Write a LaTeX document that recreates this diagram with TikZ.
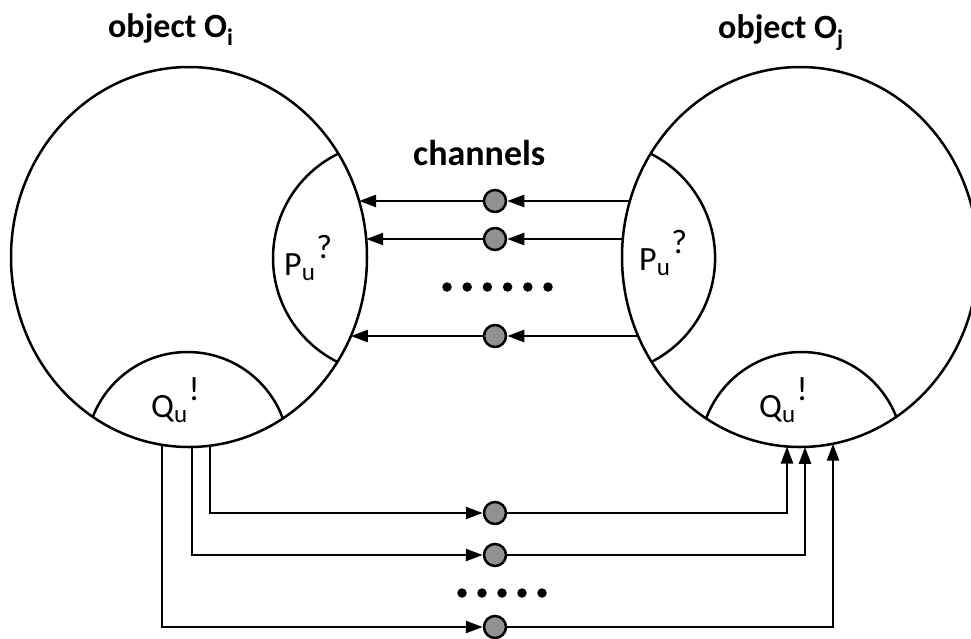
\documentclass[tikz,border=0pt]{standalone}
\usepackage{fontspec}
\setmainfont{Carlito}
\usetikzlibrary{shapes.geometric,arrows.meta}
\definecolor{chgray}{RGB}{145,145,145}
\newcommand\portlbl[2]{#1\raisebox{-5pt}{\fontsize{25}{25}\selectfont u}\hspace{1.5pt}\raisebox{17pt}{#2}}
\begin{document}
\begin{tikzpicture}[x=1pt,y=-1pt,
  obj/.style={draw,ellipse,line width=2.5pt,minimum width=356pt,minimum height=380pt,inner sep=0pt,outer sep=0pt},
  chan/.style={draw,circle,line width=2.5pt,fill=chgray,minimum size=22pt,inner sep=0pt},
  arr/.style={line width=2.5pt,-{Triangle[length=17pt,width=12pt]}},
  wire/.style={line width=2.5pt},
  dotm/.style={circle,fill=black,minimum size=9.5pt,inner sep=0pt},
  title/.style={font=\fontsize{34}{40}\selectfont\bfseries,anchor=base west,inner sep=0pt},
  lab/.style={font=\fontsize{34}{40}\selectfont,anchor=base west,inner sep=0pt}]
\clip (0,0) rectangle (971,638);
% objects
\node[obj] (Oi) at (189,257) {};
\node[obj] (Oj) at (800,257) {};
\begin{scope}
  \clip (189,257) ellipse [x radius=178pt, y radius=190pt];
  \draw[wire] (389,258) circle [radius=116pt];
  \draw[wire] (187.5,453.6) circle [radius=101.6pt];
\end{scope}
\begin{scope}
  \clip (800,257) ellipse [x radius=178pt, y radius=190pt];
  \draw[wire] (598.5,258) circle [radius=116.6pt];
  \draw[wire] (801.5,453.6) circle [radius=101.6pt];
\end{scope}
% titles and labels
\node[title] (ti) at (108,37) {object O\textsubscript{i}};
\node[title] (tj) at (718,38) {object O\textsubscript{j}};
\node[title,font=\fontsize{36}{40}\selectfont\bfseries] (ch) at (413,165) {channels};
\node[lab] (pi) at (284,275) {\portlbl{P}{?}};
\node[lab] (pj) at (639,270) {\portlbl{P}{?}};
\node[lab] (qi) at (151,417) {\portlbl{Q}{!}};
\node[lab] (qj) at (759,417) {\portlbl{Q}{!}};
% border points
\coordinate (li1) at (359.1,201);
\coordinate (li2) at (366.2,239);
\coordinate (li3) at (350.9,336);
\coordinate (rj1) at (629.9,201);
\coordinate (rj2) at (622.8,239);
\coordinate (rj3) at (638.1,336);
\coordinate (qi1) at (210,445.7);
\coordinate (qi2) at (192,447.0);
\coordinate (qi3) at (162,444.8);
\coordinate (qj1) at (787,446.5);
\coordinate (qj2) at (805,446.9);
\coordinate (qj3) at (833,443.7);
% channels
\node[chan] (c1) at (495,201) {};
\node[chan] (c2) at (495,239) {};
\node[chan] (c3) at (495,336) {};
\node[chan] (d1) at (495,513) {};
\node[chan] (d2) at (495,555) {};
\node[chan] (d3) at (495,627) {};
% top connectors
\draw[arr] (rj1) -- (c1);
\draw[arr] (c1) -- (li1);
\draw[arr] (rj2) -- (c2);
\draw[arr] (c2) -- (li2);
\draw[arr] (rj3) -- (c3);
\draw[arr] (c3) -- (li3);
% bottom connectors
\draw[arr] (qi1) |- (d1);
\draw[arr] (d1) -| (qj1);
\draw[arr] (qi2) |- (d2);
\draw[arr] (d2) -| (qj2);
\draw[arr] (qi3) |- (d3);
\draw[arr] (d3) -| (qj3);
% ellipsis dots
\foreach \k in {0,...,5} \node[dotm] (ta\k) at (447+20.2*\k,287) {};
\foreach \k in {0,...,4} \node[dotm] (ba\k) at (462+20*\k,593) {};
\end{tikzpicture}
\end{document}
